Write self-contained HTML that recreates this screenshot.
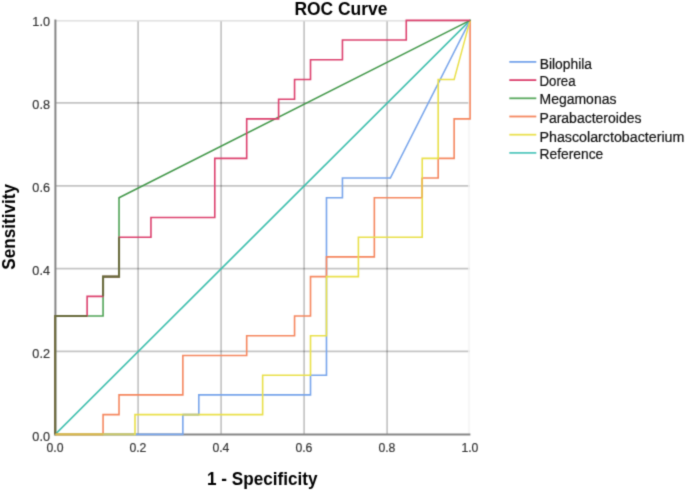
<!DOCTYPE html>
<html><head><meta charset="utf-8"><style>
html,body{margin:0;padding:0;background:#fff;}
body{width:685px;height:490px;overflow:hidden;font-family:"Liberation Sans", sans-serif;}
svg{display:block;}
</style></head><body>
<svg width="685" height="490" viewBox="0 0 685 490">
<defs><filter id="b" x="0" y="0" width="685" height="490" filterUnits="userSpaceOnUse" color-interpolation-filters="sRGB"><feConvolveMatrix order="3" kernelMatrix="0.02250 0.10500 0.02250 0.10500 0.49000 0.10500 0.02250 0.10500 0.02250" divisor="1" edgeMode="none"/></filter></defs>
<rect width="685" height="490" fill="#fff"/>
<g filter="url(#b)">
<line x1="138.10" y1="21" x2="138.10" y2="434" stroke="#000" stroke-opacity="0.23" stroke-width="1.7"/>
<line x1="221.10" y1="21" x2="221.10" y2="434" stroke="#000" stroke-opacity="0.23" stroke-width="1.7"/>
<line x1="304.10" y1="21" x2="304.10" y2="434" stroke="#000" stroke-opacity="0.23" stroke-width="1.7"/>
<line x1="387.10" y1="21" x2="387.10" y2="434" stroke="#000" stroke-opacity="0.23" stroke-width="1.7"/>
<line x1="55" y1="351.30" x2="470" y2="351.30" stroke="#000" stroke-opacity="0.23" stroke-width="1.7"/>
<line x1="55" y1="268.60" x2="470" y2="268.60" stroke="#000" stroke-opacity="0.23" stroke-width="1.7"/>
<line x1="55" y1="185.80" x2="470" y2="185.80" stroke="#000" stroke-opacity="0.23" stroke-width="1.7"/>
<line x1="55" y1="102.90" x2="470" y2="102.90" stroke="#000" stroke-opacity="0.23" stroke-width="1.7"/>
<line x1="55" y1="20.9" x2="470" y2="20.9" stroke="#dadada" stroke-width="1.3"/>
<line x1="469" y1="21" x2="469" y2="434" stroke="#f3f3f3" stroke-width="1.5"/>
<line x1="55.4" y1="19.6" x2="55.4" y2="435.4" stroke="#858585" stroke-width="2"/>
<line x1="54.4" y1="434.4" x2="470.4" y2="434.4" stroke="#858585" stroke-width="2"/>
<polyline points="55.20,434.35 470.10,20.35" fill="none" stroke="#3fbfae" stroke-width="1.5" stroke-linecap="round"/>
<polyline points="55.20,434.35 182.86,434.35 182.86,414.64 198.82,414.64 198.82,394.92 310.52,394.92 310.52,375.21 326.48,375.21 326.48,197.78 342.44,197.78 342.44,178.06 390.31,178.06" fill="none" stroke="#78a5eb" stroke-width="1.6" stroke-linejoin="miter"/>
<polyline points="390.31,178.06 470.10,20.35" fill="none" stroke="#78a5eb" stroke-width="1.5" stroke-linecap="round"/>
<polyline points="55.20,434.35 103.07,434.35 103.07,414.64 119.03,414.64 119.03,394.92 182.86,394.92 182.86,355.49 246.69,355.49 246.69,335.78 294.57,335.78 294.57,316.06 310.52,316.06 310.52,276.64 326.48,276.64 326.48,256.92 374.35,256.92 374.35,197.78 422.23,197.78 422.23,178.06 438.18,178.06 438.18,158.35 454.14,158.35 454.14,118.92 470.10,118.92 470.10,20.35" fill="none" stroke="#f5875f" stroke-width="1.6" stroke-linejoin="miter"/>
<polyline points="55.20,434.35 134.99,434.35 134.99,414.64 262.65,414.64 262.65,375.21 310.52,375.21 310.52,335.78 326.48,335.78 326.48,276.64 358.40,276.64 358.40,237.21 422.23,237.21 422.23,158.35 438.18,158.35 438.18,79.49 454.14,79.49" fill="none" stroke="#e9e04a" stroke-width="1.6" stroke-linejoin="miter"/>
<polyline points="454.14,79.49 470.10,20.35" fill="none" stroke="#e9e04a" stroke-width="1.5" stroke-linecap="round"/>
<polyline points="55.20,434.35 55.20,316.06 103.07,316.06 103.07,276.64 119.03,276.64 119.03,197.78" fill="none" stroke="#4fa355" stroke-width="1.6" stroke-linejoin="miter"/>
<polyline points="119.03,197.78 470.10,20.35" fill="none" stroke="#43984a" stroke-width="1.5" stroke-linecap="round"/>
<polyline points="55.20,434.35 55.20,316.06 87.12,316.06 87.12,296.35 103.07,296.35 103.07,276.64 119.03,276.64 119.03,237.21 150.95,237.21 150.95,217.49 214.78,217.49 214.78,158.35 246.69,158.35 246.69,118.92 278.61,118.92 278.61,99.21 294.57,99.21 294.57,79.49 310.52,79.49 310.52,59.78 342.44,59.78 342.44,40.06 406.27,40.06 406.27,20.35 470.10,20.35" fill="none" stroke="#dc416e" stroke-width="1.6" stroke-linejoin="miter"/>
<polyline points="55.20,434.35 55.20,316.06 87.12,316.06" fill="none" stroke="#6a6c3e" stroke-width="2.1"/>
<polyline points="103.07,296.35 103.07,276.64 119.03,276.64 119.03,237.21" fill="none" stroke="#6a6c3e" stroke-width="2.1"/>
<line x1="182.86" y1="414.64" x2="198.82" y2="414.64" stroke="#c8cc78" stroke-width="1.6"/>
<line x1="422.23" y1="197.78" x2="422.23" y2="178.06" stroke="#eabb4e" stroke-width="1.6"/>
<line x1="102.07" y1="434.35" x2="133.99" y2="434.35" stroke="#c9c66c" stroke-width="1.6"/>
<line x1="55.20" y1="434.35" x2="103.07" y2="434.35" stroke="#d7b950" stroke-width="1.6"/>
<text x="49.95" y="440.90" text-anchor="end" textLength="17.6" lengthAdjust="spacingAndGlyphs" font-family="Liberation Sans" font-size="13" fill="#333" stroke="#333" stroke-width="0.2">0.0</text>
<text x="49.95" y="357.88" text-anchor="end" textLength="17.6" lengthAdjust="spacingAndGlyphs" font-family="Liberation Sans" font-size="13" fill="#333" stroke="#333" stroke-width="0.2">0.2</text>
<text x="49.95" y="274.86" text-anchor="end" textLength="17.6" lengthAdjust="spacingAndGlyphs" font-family="Liberation Sans" font-size="13" fill="#333" stroke="#333" stroke-width="0.2">0.4</text>
<text x="49.95" y="191.84" text-anchor="end" textLength="17.6" lengthAdjust="spacingAndGlyphs" font-family="Liberation Sans" font-size="13" fill="#333" stroke="#333" stroke-width="0.2">0.6</text>
<text x="49.95" y="108.82" text-anchor="end" textLength="17.6" lengthAdjust="spacingAndGlyphs" font-family="Liberation Sans" font-size="13" fill="#333" stroke="#333" stroke-width="0.2">0.8</text>
<text x="49.95" y="25.80" text-anchor="end" textLength="17.6" lengthAdjust="spacingAndGlyphs" font-family="Liberation Sans" font-size="13" fill="#333" stroke="#333" stroke-width="0.2">1.0</text>
<text x="55.00" y="451.9" text-anchor="middle" textLength="17.0" lengthAdjust="spacingAndGlyphs" font-family="Liberation Sans" font-size="13" fill="#333" stroke="#333" stroke-width="0.2">0.0</text>
<text x="137.90" y="451.9" text-anchor="middle" textLength="17.0" lengthAdjust="spacingAndGlyphs" font-family="Liberation Sans" font-size="13" fill="#333" stroke="#333" stroke-width="0.2">0.2</text>
<text x="220.90" y="451.9" text-anchor="middle" textLength="17.0" lengthAdjust="spacingAndGlyphs" font-family="Liberation Sans" font-size="13" fill="#333" stroke="#333" stroke-width="0.2">0.4</text>
<text x="303.90" y="451.9" text-anchor="middle" textLength="17.0" lengthAdjust="spacingAndGlyphs" font-family="Liberation Sans" font-size="13" fill="#333" stroke="#333" stroke-width="0.2">0.6</text>
<text x="386.90" y="451.9" text-anchor="middle" textLength="17.0" lengthAdjust="spacingAndGlyphs" font-family="Liberation Sans" font-size="13" fill="#333" stroke="#333" stroke-width="0.2">0.8</text>
<text x="469.90" y="451.9" text-anchor="middle" textLength="17.0" lengthAdjust="spacingAndGlyphs" font-family="Liberation Sans" font-size="13" fill="#333" stroke="#333" stroke-width="0.2">1.0</text>
<text x="294.39" y="14.6" textLength="93.03" lengthAdjust="spacingAndGlyphs" font-family="Liberation Sans" font-weight="bold" font-size="18" fill="#000">ROC Curve</text>
<text x="207.01" y="484.7" textLength="110.44" lengthAdjust="spacingAndGlyphs" font-family="Liberation Sans" font-weight="bold" font-size="18" fill="#000">1 - Specificity</text>
<text transform="rotate(-90)" x="-269.66" y="14.6" textLength="85.61" lengthAdjust="spacingAndGlyphs" font-family="Liberation Sans" font-weight="bold" font-size="18" fill="#000">Sensitivity</text>
<line x1="509.3" y1="61.90" x2="536.3" y2="61.90" stroke="#78a5eb" stroke-width="1.8"/>
<text x="539.71" y="68.70" textLength="52.32" lengthAdjust="spacingAndGlyphs" font-family="Liberation Sans" font-size="14" fill="#111" stroke="#111" stroke-width="0.2">Bilophila</text>
<line x1="509.3" y1="80.10" x2="536.3" y2="80.10" stroke="#dc416e" stroke-width="1.8"/>
<text x="539.46" y="86.30" textLength="36.10" lengthAdjust="spacingAndGlyphs" font-family="Liberation Sans" font-size="14" fill="#111" stroke="#111" stroke-width="0.2">Dorea</text>
<line x1="509.3" y1="98.30" x2="536.3" y2="98.30" stroke="#5aaa5f" stroke-width="1.8"/>
<text x="539.56" y="104.30" textLength="76.86" lengthAdjust="spacingAndGlyphs" font-family="Liberation Sans" font-size="14" fill="#111" stroke="#111" stroke-width="0.2">Megamonas</text>
<line x1="509.3" y1="116.50" x2="536.3" y2="116.50" stroke="#f5875f" stroke-width="1.8"/>
<text x="539.56" y="122.90" textLength="101.94" lengthAdjust="spacingAndGlyphs" font-family="Liberation Sans" font-size="14" fill="#111" stroke="#111" stroke-width="0.2">Parabacteroides</text>
<line x1="509.3" y1="134.70" x2="536.3" y2="134.70" stroke="#ebe150" stroke-width="1.8"/>
<text x="539.46" y="141.70" textLength="144.95" lengthAdjust="spacingAndGlyphs" font-family="Liberation Sans" font-size="14" fill="#111" stroke="#111" stroke-width="0.2">Phascolarctobacterium</text>
<line x1="509.3" y1="152.90" x2="536.3" y2="152.90" stroke="#55c8be" stroke-width="1.8"/>
<text x="539.61" y="159.30" textLength="63.63" lengthAdjust="spacingAndGlyphs" font-family="Liberation Sans" font-size="14" fill="#111" stroke="#111" stroke-width="0.2">Reference</text>
</g>
</svg>
</body></html>
